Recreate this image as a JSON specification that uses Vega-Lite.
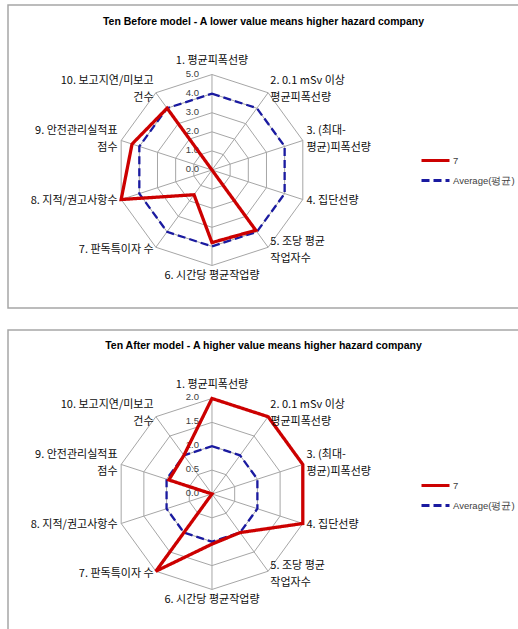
{
  "$schema": "https://vega.github.io/schema/vega-lite/v6.json",
  "padding": {"left": 7, "top": 4, "right": 0, "bottom": 0},
  "background": "white",
  "spacing": 20,
  "resolve": {
    "scale": {"color": "independent", "strokeDash": "independent"},
    "legend": {"color": "independent", "strokeDash": "independent"}
  },
  "config": {
    "view": {"stroke": "#a6a6a6", "strokeWidth": 1.5},
    "font": "Liberation Sans",
    "title": {"font": "Liberation Sans", "fontSize": 10.5, "fontWeight": "bold", "color": "#000000", "anchor": "middle", "baseline": "bottom"},
    "legend": {"title": null, "orient": "none", "legendX": 419, "legendY": 147, "symbolType": "M-2,0H2", "symbolSize": 196, "symbolStrokeWidth": 3, "labelOffset": 9, "rowPadding": 5, "labelFontSize": 9.5, "labelFont": "Liberation Sans", "labelColor": "#404040", "padding": 0}
  },
  "datasets": {
    "rings5": [
      {"ring": 1, "axes": [1,2,3,4,5,6,7,8,9,10]},
      {"ring": 2, "axes": [1,2,3,4,5,6,7,8,9,10]},
      {"ring": 3, "axes": [1,2,3,4,5,6,7,8,9,10]},
      {"ring": 4, "axes": [1,2,3,4,5,6,7,8,9,10]},
      {"ring": 5, "axes": [1,2,3,4,5,6,7,8,9,10]}
    ],
    "rings2": [
      {"ring": 0.5, "axes": [1,2,3,4,5,6,7,8,9,10]},
      {"ring": 1, "axes": [1,2,3,4,5,6,7,8,9,10]},
      {"ring": 1.5, "axes": [1,2,3,4,5,6,7,8,9,10]},
      {"ring": 2, "axes": [1,2,3,4,5,6,7,8,9,10]}
    ],
    "ticks5": [
      {"v": 0, "t": "0.0"}, {"v": 1, "t": "1.0"}, {"v": 2, "t": "2.0"},
      {"v": 3, "t": "3.0"}, {"v": 4, "t": "4.0"}, {"v": 5, "t": "5.0"}
    ],
    "ticks2": [
      {"v": 0, "t": "0.0"}, {"v": 0.5, "t": "0.5"}, {"v": 1, "t": "1.0"},
      {"v": 1.5, "t": "1.5"}, {"v": 2, "t": "2.0"}
    ],
    "labels": [
      {"axis": 1, "label": "1. 평균피폭선량"},
      {"axis": 2, "label": "2. 0.1 mSv 이상\n평균피폭선량"},
      {"axis": 3, "label": "3. (최대-\n평균)피폭선량"},
      {"axis": 4, "label": "4. 집단선량"},
      {"axis": 5, "label": "5. 조당 평균\n작업자수"},
      {"axis": 6, "label": "6. 시간당 평균작업량"},
      {"axis": 7, "label": "7. 판독특이자 수"},
      {"axis": 8, "label": "8. 지적/권고사항수"},
      {"axis": 9, "label": "9. 안전관리실적표\n점수"},
      {"axis": 10, "label": "10. 보고지연/미보고\n건수"}
    ],
    "before": [
      {"series": "Average(평균)", "axis": 1, "value": 4},
      {"series": "Average(평균)", "axis": 2, "value": 4},
      {"series": "Average(평균)", "axis": 3, "value": 4},
      {"series": "Average(평균)", "axis": 4, "value": 4},
      {"series": "Average(평균)", "axis": 5, "value": 4},
      {"series": "Average(평균)", "axis": 6, "value": 4},
      {"series": "Average(평균)", "axis": 7, "value": 4},
      {"series": "Average(평균)", "axis": 8, "value": 4},
      {"series": "Average(평균)", "axis": 9, "value": 4},
      {"series": "Average(평균)", "axis": 10, "value": 4},
      {"series": "7", "axis": 1, "value": 0},
      {"series": "7", "axis": 2, "value": 0},
      {"series": "7", "axis": 3, "value": 0},
      {"series": "7", "axis": 4, "value": 0},
      {"series": "7", "axis": 5, "value": 3.9},
      {"series": "7", "axis": 6, "value": 3.8},
      {"series": "7", "axis": 7, "value": 1.6},
      {"series": "7", "axis": 8, "value": 5.0},
      {"series": "7", "axis": 9, "value": 4.4},
      {"series": "7", "axis": 10, "value": 4.0}
    ],
    "after": [
      {"series": "Average(평균)", "axis": 1, "value": 1},
      {"series": "Average(평균)", "axis": 2, "value": 1},
      {"series": "Average(평균)", "axis": 3, "value": 1},
      {"series": "Average(평균)", "axis": 4, "value": 1},
      {"series": "Average(평균)", "axis": 5, "value": 1},
      {"series": "Average(평균)", "axis": 6, "value": 1},
      {"series": "Average(평균)", "axis": 7, "value": 1},
      {"series": "Average(평균)", "axis": 8, "value": 1},
      {"series": "Average(평균)", "axis": 9, "value": 1},
      {"series": "Average(평균)", "axis": 10, "value": 1},
      {"series": "7", "axis": 1, "value": 2.0},
      {"series": "7", "axis": 2, "value": 2.0},
      {"series": "7", "axis": 3, "value": 2.0},
      {"series": "7", "axis": 4, "value": 2.0},
      {"series": "7", "axis": 5, "value": 1.0},
      {"series": "7", "axis": 6, "value": 1.05},
      {"series": "7", "axis": 7, "value": 2.0},
      {"series": "7", "axis": 8, "value": 0},
      {"series": "7", "axis": 9, "value": 0.95},
      {"series": "7", "axis": 10, "value": 1.0}
    ]
  },
  "vconcat": [
    {
      "width": 511,
      "height": 303,
      "title": {"text": "Ten Before model - A lower value means higher hazard company", "offset": -22},
      "layer": [
        {
          "data": {"name": "rings5"},
          "transform": [
            {"flatten": ["axes"], "as": ["axis"]},
            {"calculate": "(datum.axis-1)*PI/5", "as": "a"},
            {"calculate": "datum.ring/5*sin(datum.a)", "as": "x"},
            {"calculate": "datum.ring/5*cos(datum.a)", "as": "y"}
          ],
          "mark": {"type": "line", "interpolate": "linear-closed", "color": "#a6a6a6", "strokeWidth": 1},
          "encoding": {
            "x": {"field": "x", "type": "quantitative", "scale": {"domain": [-2.136, 3.215], "nice": false, "zero": false}, "axis": null},
            "y": {"field": "y", "type": "quantitative", "scale": {"domain": [-1.445, 1.728], "nice": false, "zero": false}, "axis": null},
            "detail": {"field": "ring", "type": "nominal"},
            "order": {"field": "axis", "type": "quantitative"}
          }
        },
        {
          "data": {"name": "labels"},
          "transform": [
            {"calculate": "(datum.axis-1)*PI/5", "as": "a"},
            {"calculate": "0", "as": "x0"},
            {"calculate": "sin(datum.a)", "as": "x"},
            {"calculate": "cos(datum.a)", "as": "y"}
          ],
          "mark": {"type": "rule", "color": "#a6a6a6", "strokeWidth": 1},
          "encoding": {
            "x": {"field": "x0", "type": "quantitative"},
            "y": {"field": "x0", "type": "quantitative"},
            "x2": {"field": "x"},
            "y2": {"field": "y"}
          }
        },
        {
          "data": {"name": "ticks5"},
          "transform": [{"calculate": "datum.v/5", "as": "y"}, {"calculate": "0", "as": "x0"}],
          "mark": {"type": "text", "align": "right", "baseline": "middle", "dx": -13, "dy": -1, "fontSize": 9.5, "color": "#404040", "font": "Liberation Sans"},
          "encoding": {
            "x": {"field": "x0", "type": "quantitative"},
            "y": {"field": "y", "type": "quantitative"},
            "text": {"field": "t", "type": "nominal"}
          }
        },
        {
          "data": {"name": "before"},
          "transform": [
            {"filter": "datum.series != '7'"},
            {"calculate": "(datum.axis-1)*PI/5", "as": "a"},
            {"calculate": "datum.value/5*sin(datum.a)", "as": "x"},
            {"calculate": "datum.value/5*cos(datum.a)", "as": "y"}
          ],
          "mark": {"type": "line", "interpolate": "linear-closed", "strokeWidth": 2.3},
          "encoding": {
            "x": {"field": "x", "type": "quantitative"},
            "y": {"field": "y", "type": "quantitative"},
            "order": {"field": "axis", "type": "quantitative"},
            "color": {"field": "series", "type": "nominal", "scale": {"domain": ["7", "Average(평균)"], "range": ["#cc0000", "#1a1aa0"]}},
            "strokeDash": {"field": "series", "type": "nominal", "scale": {"domain": ["7", "Average(평균)"], "range": [[1, 0], [8, 4]]}}
          }
        },
        {
          "data": {"name": "before"},
          "transform": [
            {"filter": "datum.series == '7'"},
            {"calculate": "(datum.axis-1)*PI/5", "as": "a"},
            {"calculate": "datum.value/5*sin(datum.a)", "as": "x"},
            {"calculate": "datum.value/5*cos(datum.a)", "as": "y"}
          ],
          "mark": {"type": "line", "interpolate": "linear-closed", "strokeWidth": 3.3},
          "encoding": {
            "x": {"field": "x", "type": "quantitative"},
            "y": {"field": "y", "type": "quantitative"},
            "order": {"field": "axis", "type": "quantitative"},
            "color": {"field": "series", "type": "nominal"},
            "strokeDash": {"field": "series", "type": "nominal"}
          }
        },
        {
          "data": {"name": "labels"},
          "transform": [
            {"filter": "datum.axis == 1 || datum.axis == 6"},
            {"calculate": "datum.axis == 1 ? 1.14 : 1.11", "as": "r"},
            {"calculate": "(datum.axis-1)*PI/5", "as": "a"},
            {"calculate": "datum.r*sin(datum.a)", "as": "x"},
            {"calculate": "datum.r*cos(datum.a)", "as": "y"}
          ],
          "mark": {"type": "text", "align": "center", "baseline": "middle", "fontSize": 11, "font": "Noto Sans CJK KR", "color": "#0d0d0d", "lineBreak": "\n", "lineHeight": 17},
          "encoding": {
            "x": {"field": "x", "type": "quantitative"},
            "y": {"field": "y", "type": "quantitative"},
            "text": {"field": "label", "type": "nominal"}
          }
        },
        {
          "data": {"name": "labels"},
          "transform": [
            {"filter": "datum.axis >= 2 && datum.axis <= 5"},
            {"calculate": "(datum.axis-1)*PI/5", "as": "a"},
            {"calculate": "indexof(datum.label, '\\n') >= 0 ? 0.089 : 0", "as": "shift"},
            {"calculate": "1.04*sin(datum.a)", "as": "x"},
            {"calculate": "1.04*cos(datum.a) + datum.shift", "as": "y"}
          ],
          "mark": {"type": "text", "align": "left", "baseline": "middle", "fontSize": 11, "font": "Noto Sans CJK KR", "color": "#0d0d0d", "lineBreak": "\n", "lineHeight": 17},
          "encoding": {
            "x": {"field": "x", "type": "quantitative"},
            "y": {"field": "y", "type": "quantitative"},
            "text": {"field": "label", "type": "nominal"}
          }
        },
        {
          "data": {"name": "labels"},
          "transform": [
            {"filter": "datum.axis >= 7"},
            {"calculate": "(datum.axis-1)*PI/5", "as": "a"},
            {"calculate": "indexof(datum.label, '\\n') >= 0 ? 0.089 : 0", "as": "shift"},
            {"calculate": "1.04*sin(datum.a)", "as": "x"},
            {"calculate": "1.04*cos(datum.a) + datum.shift", "as": "y"}
          ],
          "mark": {"type": "text", "align": "right", "baseline": "middle", "fontSize": 11, "font": "Noto Sans CJK KR", "color": "#0d0d0d", "lineBreak": "\n", "lineHeight": 17},
          "encoding": {
            "x": {"field": "x", "type": "quantitative"},
            "y": {"field": "y", "type": "quantitative"},
            "text": {"field": "label", "type": "nominal"}
          }
        }
      ]
    },
    {
      "width": 511,
      "height": 301,
      "title": {"text": "Ten After model - A higher value means higher hazard company", "offset": -21},
      "layer": [
        {
          "data": {"name": "rings2"},
          "transform": [
            {"flatten": ["axes"], "as": ["axis"]},
            {"calculate": "(datum.axis-1)*PI/5", "as": "a"},
            {"calculate": "datum.ring/2*sin(datum.a)", "as": "x"},
            {"calculate": "datum.ring/2*cos(datum.a)", "as": "y"}
          ],
          "mark": {"type": "line", "interpolate": "linear-closed", "color": "#a6a6a6", "strokeWidth": 1},
          "encoding": {
            "x": {"field": "x", "type": "quantitative", "scale": {"domain": [-2.136, 3.215], "nice": false, "zero": false}, "axis": null},
            "y": {"field": "y", "type": "quantitative", "scale": {"domain": [-1.435, 1.717], "nice": false, "zero": false}, "axis": null},
            "detail": {"field": "ring", "type": "nominal"},
            "order": {"field": "axis", "type": "quantitative"}
          }
        },
        {
          "data": {"name": "labels"},
          "transform": [
            {"calculate": "(datum.axis-1)*PI/5", "as": "a"},
            {"calculate": "0", "as": "x0"},
            {"calculate": "sin(datum.a)", "as": "x"},
            {"calculate": "cos(datum.a)", "as": "y"}
          ],
          "mark": {"type": "rule", "color": "#a6a6a6", "strokeWidth": 1},
          "encoding": {
            "x": {"field": "x0", "type": "quantitative"},
            "y": {"field": "x0", "type": "quantitative"},
            "x2": {"field": "x"},
            "y2": {"field": "y"}
          }
        },
        {
          "data": {"name": "ticks2"},
          "transform": [{"calculate": "datum.v/2", "as": "y"}, {"calculate": "0", "as": "x0"}],
          "mark": {"type": "text", "align": "right", "baseline": "middle", "dx": -13, "dy": -1, "fontSize": 9.5, "color": "#404040", "font": "Liberation Sans"},
          "encoding": {
            "x": {"field": "x0", "type": "quantitative"},
            "y": {"field": "y", "type": "quantitative"},
            "text": {"field": "t", "type": "nominal"}
          }
        },
        {
          "data": {"name": "after"},
          "transform": [
            {"filter": "datum.series != '7'"},
            {"calculate": "(datum.axis-1)*PI/5", "as": "a"},
            {"calculate": "datum.value/2*sin(datum.a)", "as": "x"},
            {"calculate": "datum.value/2*cos(datum.a)", "as": "y"}
          ],
          "mark": {"type": "line", "interpolate": "linear-closed", "strokeWidth": 2.3},
          "encoding": {
            "x": {"field": "x", "type": "quantitative"},
            "y": {"field": "y", "type": "quantitative"},
            "order": {"field": "axis", "type": "quantitative"},
            "color": {"field": "series", "type": "nominal", "scale": {"domain": ["7", "Average(평균)"], "range": ["#cc0000", "#1a1aa0"]}},
            "strokeDash": {"field": "series", "type": "nominal", "scale": {"domain": ["7", "Average(평균)"], "range": [[1, 0], [8, 4]]}}
          }
        },
        {
          "data": {"name": "after"},
          "transform": [
            {"filter": "datum.series == '7'"},
            {"calculate": "(datum.axis-1)*PI/5", "as": "a"},
            {"calculate": "datum.value/2*sin(datum.a)", "as": "x"},
            {"calculate": "datum.value/2*cos(datum.a)", "as": "y"}
          ],
          "mark": {"type": "line", "interpolate": "linear-closed", "strokeWidth": 3.3},
          "encoding": {
            "x": {"field": "x", "type": "quantitative"},
            "y": {"field": "y", "type": "quantitative"},
            "order": {"field": "axis", "type": "quantitative"},
            "color": {"field": "series", "type": "nominal"},
            "strokeDash": {"field": "series", "type": "nominal"}
          }
        },
        {
          "data": {"name": "labels"},
          "transform": [
            {"filter": "datum.axis == 1 || datum.axis == 6"},
            {"calculate": "datum.axis == 1 ? 1.14 : 1.11", "as": "r"},
            {"calculate": "(datum.axis-1)*PI/5", "as": "a"},
            {"calculate": "datum.r*sin(datum.a)", "as": "x"},
            {"calculate": "datum.r*cos(datum.a)", "as": "y"}
          ],
          "mark": {"type": "text", "align": "center", "baseline": "middle", "fontSize": 11, "font": "Noto Sans CJK KR", "color": "#0d0d0d", "lineBreak": "\n", "lineHeight": 17},
          "encoding": {
            "x": {"field": "x", "type": "quantitative"},
            "y": {"field": "y", "type": "quantitative"},
            "text": {"field": "label", "type": "nominal"}
          }
        },
        {
          "data": {"name": "labels"},
          "transform": [
            {"filter": "datum.axis >= 2 && datum.axis <= 5"},
            {"calculate": "(datum.axis-1)*PI/5", "as": "a"},
            {"calculate": "indexof(datum.label, '\\n') >= 0 ? 0.089 : 0", "as": "shift"},
            {"calculate": "1.04*sin(datum.a)", "as": "x"},
            {"calculate": "1.04*cos(datum.a) + datum.shift", "as": "y"}
          ],
          "mark": {"type": "text", "align": "left", "baseline": "middle", "fontSize": 11, "font": "Noto Sans CJK KR", "color": "#0d0d0d", "lineBreak": "\n", "lineHeight": 17},
          "encoding": {
            "x": {"field": "x", "type": "quantitative"},
            "y": {"field": "y", "type": "quantitative"},
            "text": {"field": "label", "type": "nominal"}
          }
        },
        {
          "data": {"name": "labels"},
          "transform": [
            {"filter": "datum.axis >= 7"},
            {"calculate": "(datum.axis-1)*PI/5", "as": "a"},
            {"calculate": "indexof(datum.label, '\\n') >= 0 ? 0.089 : 0", "as": "shift"},
            {"calculate": "1.04*sin(datum.a)", "as": "x"},
            {"calculate": "1.04*cos(datum.a) + datum.shift", "as": "y"}
          ],
          "mark": {"type": "text", "align": "right", "baseline": "middle", "fontSize": 11, "font": "Noto Sans CJK KR", "color": "#0d0d0d", "lineBreak": "\n", "lineHeight": 17},
          "encoding": {
            "x": {"field": "x", "type": "quantitative"},
            "y": {"field": "y", "type": "quantitative"},
            "text": {"field": "label", "type": "nominal"}
          }
        }
      ]
    }
  ]
}
